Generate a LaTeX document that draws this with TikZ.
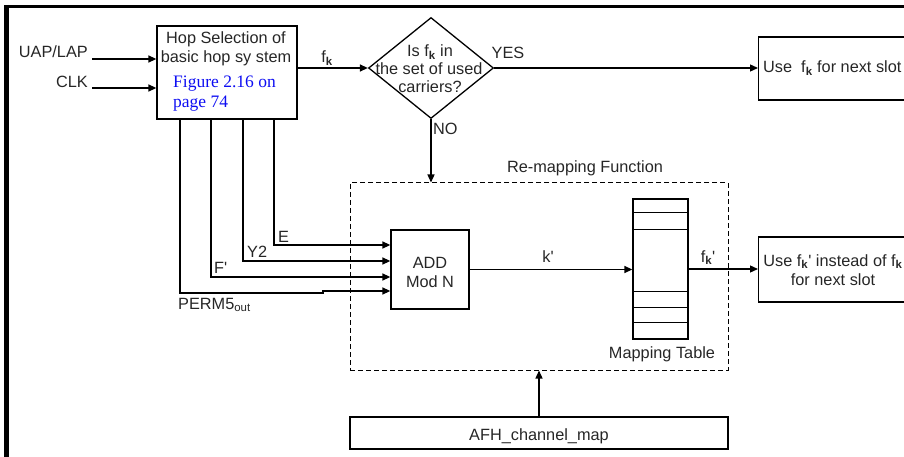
\documentclass[tikz,border=0pt]{standalone}
\usepackage{fontspec}
\setmainfont{Liberation Sans}
\newfontfamily\figfont{Liberation Serif}
\usetikzlibrary{shapes.geometric,arrows.meta}
\definecolor{reflink}{rgb}{0.05,0.05,0.95}
\newcommand{\fsub}{f\textsubscript{\textbf{k}}}
\tikzset{
  block/.style={draw, line width=1.3pt, inner sep=0pt},
  remapbox/.style={draw, line width=1pt, dash pattern=on 5pt off 3pt, inner sep=0pt},
  flow/.style={-{Triangle[length=8pt,width=7pt]}, line width=1.3pt},
  txt/.style={inner sep=0pt, anchor=base, text=black!85, font=\fontsize{16.3}{19}\selectfont},
}
\begin{document}
\begin{tikzpicture}[x=1pt,y=-1pt]
        \useasboundingbox (0,0) rectangle (904,457);
        % Frame
        \draw[line width=2.5pt] (4,6.5) -- (904,6.5);
        \draw[line width=5pt] (6.5,5) -- (6.5,457);

        % Nodes
        \node (hop) [block, minimum width=140, minimum height=93] at (227,72.5) {};
        \node (q) [block, diamond, minimum width=125, minimum height=101] at (431,68) {};
        \node (use1) [block, anchor=west, minimum width=150, minimum height=63] at (758,68.5) {};
        \node (remap) [remapbox, minimum width=378, minimum height=187] at (539,276.5) {};
        \node (add) [block, minimum width=78, minimum height=79] at (430,269.5) {};
        \node (map) [block, minimum width=55, minimum height=140] at (660.5,269) {};
        \node (use2) [block, anchor=west, minimum width=150, minimum height=65] at (758,269.5) {};
        \node (afh) [block, minimum width=378, minimum height=32] at (539,433) {};

        % Texts
        \node (uap) [txt, anchor=base east] at (88,58) {UAP/LAP};
        \node (clk) [txt, anchor=base east] at (88,88) {CLK};
        \node (hopA) [txt] at (226,44) {Hop Selection of};
        \node (hopB) [txt] at (226,63) {basic hop sy stem};
        \node (figA) [txt, anchor=base west, font=\figfont\fontsize{17.5}{20}\selectfont, text=reflink] at (173,88) {Figure 2.16 on};
        \node (figB) [txt, anchor=base west, font=\figfont\fontsize{17.5}{20}\selectfont, text=reflink] at (173,108) {page 74};
        \node (fkLbl) [txt] at (327,63) {\fsub};
        \node (qA) [txt] at (430,57) {Is \fsub\ in};
        \node (qB) [txt] at (429,75) {the set of used};
        \node (qC) [txt] at (430,93) {carriers?};
        \node (yes) [txt] at (508,59) {YES};
        \node (no) [txt, anchor=base west] at (433,135) {NO};
        \node (useA) [txt, anchor=base west] at (763,73) {Use\ \ \fsub\ for next slot};
        \node (remapLbl) [txt] at (585,172) {Re-mapping Function};
        \node (eLbl) [txt, anchor=base west] at (278,242) {E};
        \node (yLbl) [txt, anchor=base west] at (247,257) {Y2};
        \node (fLbl) [txt, anchor=base west] at (214,273) {F\textquotesingle};
        \node (pLbl) [txt, anchor=base west] at (178,309) {PERM5\textsubscript{out}};
        \node (addA) [txt] at (430,268) {ADD};
        \node (addB) [txt] at (430,287) {Mod N};
        \node (kLbl) [txt] at (548,262) {k\textquotesingle};
        \node (fkpLbl) [txt] at (708,262) {\fsub\textquotesingle};
        \node (useB) [txt] at (833,266) {Use \fsub\textquotesingle\ instead of \fsub};
        \node (useC) [txt] at (833,285) {for next slot};
        \node (mapLbl) [txt] at (662,358) {Mapping Table};
        \node (afhLbl) [txt] at (539,440) {AFH\_channel\_map};

        % Mapping table rows
        \foreach \row in {14,31,93,109,124}
            \draw[line width=1.3pt] ([yshift=-\row pt]map.north west) -- ([yshift=-\row pt]map.north east);

        % Directed Edges
        \coordinate (uapIn) at (92,59);
        \coordinate (clkIn) at (92,88);
        \coordinate (jog) at (323,293);
        \draw[flow] (uapIn) -- (uapIn -| hop.west);
        \draw[flow] (clkIn) -- (clkIn -| hop.west);
        \draw[flow] (hop.east |- q.west) -- (q.west);
        \draw[flow] (q.east) -- (q.east -| use1.west);
        \draw[flow] (q.south) -- (q.south |- remap.north);
        \draw[flow] ([xshift=47pt]hop.south) |- ([yshift=24.5pt]add.west);
        \draw[flow] ([xshift=16pt]hop.south) |- ([yshift=8.5pt]add.west);
        \draw[flow] ([xshift=-16pt]hop.south) |- ([yshift=-7.5pt]add.west);
        \draw[flow] ([xshift=-47pt]hop.south) |- (jog) -- ++(0,-2) -- ([yshift=-21.5pt]add.west);
        \draw[flow] (add.east) -- (add.east -| map.west);
        \draw[flow] (map.east) -- (map.east -| use2.west);
        \draw[flow] (afh.north) -- (remap.south);
    \end{tikzpicture}
\end{document}
